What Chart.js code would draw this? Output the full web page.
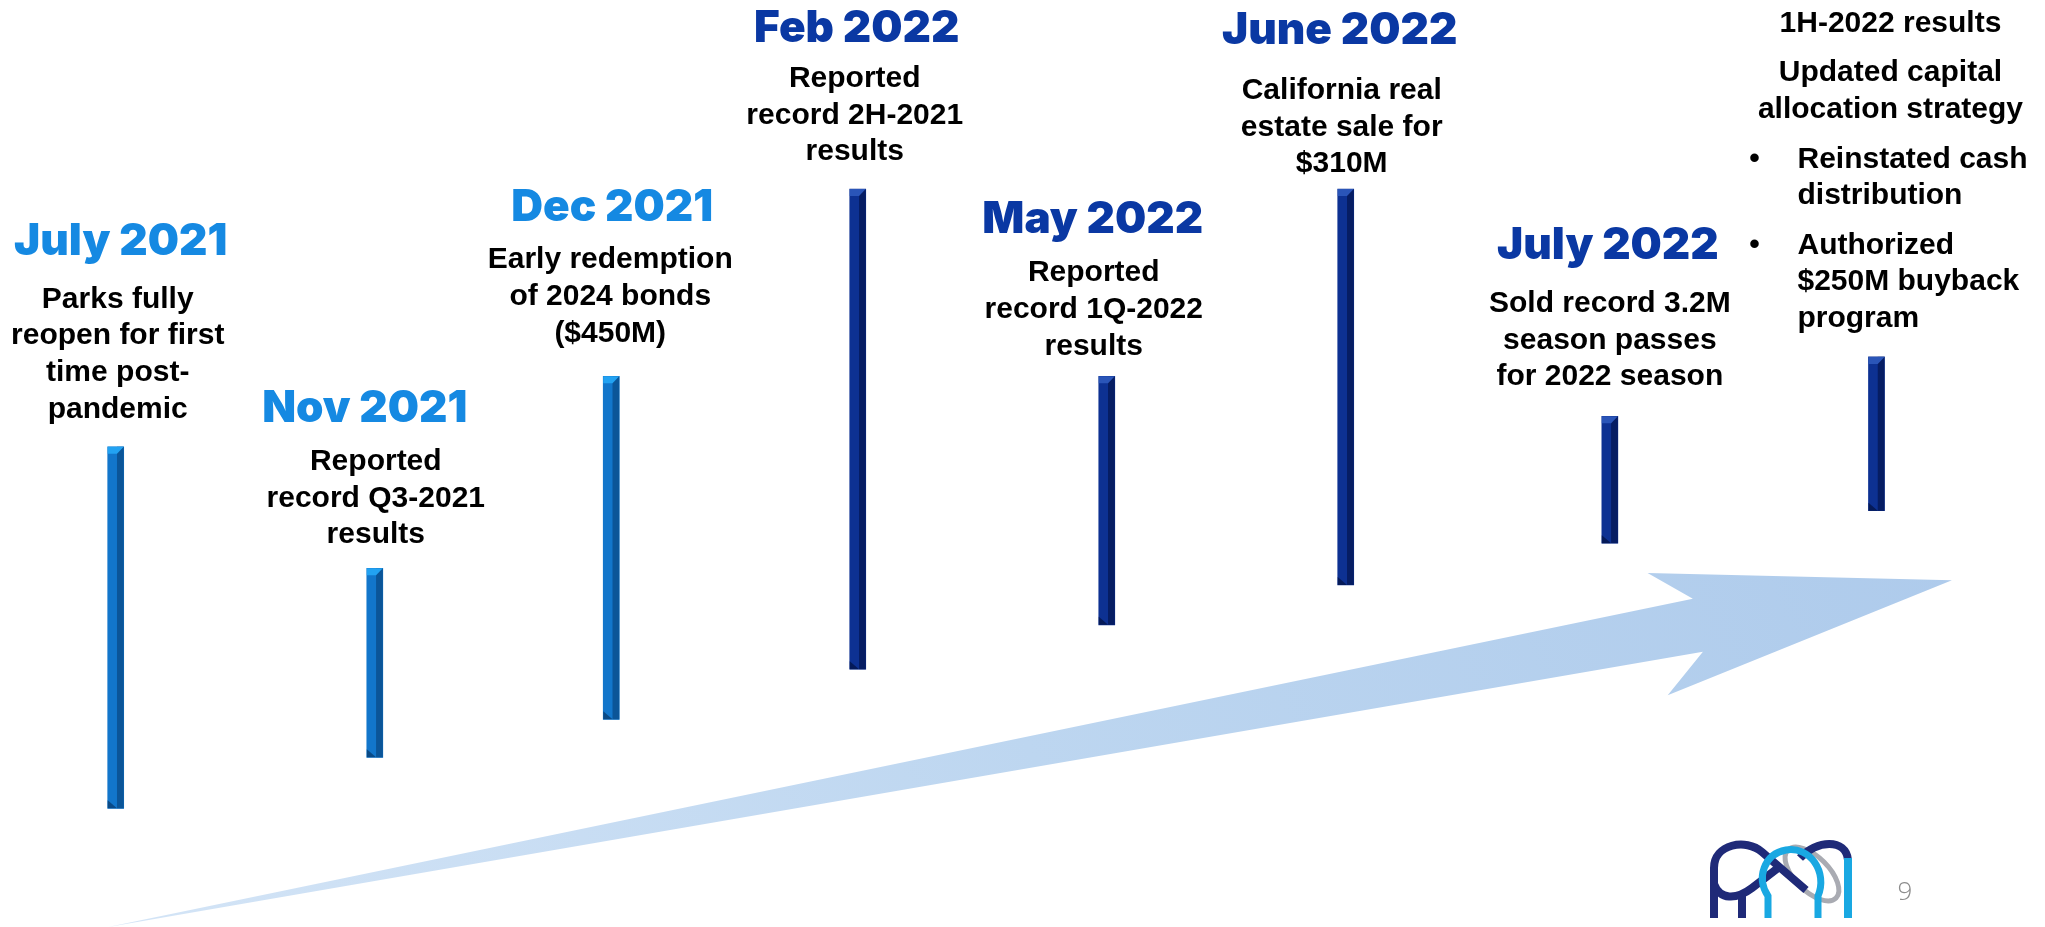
<!DOCTYPE html>
<html>
<head>
<meta charset="utf-8">
<script src="https://cdn.jsdelivr.net/npm/chart.js@4.4.0/dist/chart.umd.min.js"></script>
<style>
    html, body { margin: 0; padding: 0; background: #fff; }
    #wrap { width: 2045px; height: 927px; }
</style>
</head>
<body>
<div id="wrap"><canvas id="timelineChart" width="2045" height="927"></canvas></div>
<script>
// Données de la frise
const eventTitles = ['July 2021', 'Nov 2021', 'Dec 2021', 'Feb 2022', 'May 2022', 'June 2022', 'July 2022', ''];
const eventSlots = [0, 1.03, 1.97, 2.95, 3.94, 4.89, 5.94, 7];
const barBottoms = [12.8, 18.3, 22.4, 27.8, 32.6, 36.9, 41.4, 44.9];
const barTops = [51.8, 38.7, 59.4, 79.6, 59.4, 79.6, 55.1, 61.5];
const eventTexts = [
    [['Parks fully', 'reopen for first', 'time post-', 'pandemic']],
    [['Reported', 'record Q3-2021', 'results']],
    [['Early redemption', 'of 2024 bonds', '($450M)']],
    [['Reported', 'record 2H-2021', 'results']],
    [['Reported', 'record 1Q-2022', 'results']],
    [['California real', 'estate sale for', '$310M']],
    [['Sold record 3.2M', 'season passes', 'for 2022 season']],
    [['1H-2022 results'], ['Updated capital', 'allocation strategy'], ['Reinstated cash', 'distribution'], ['Authorized', '$250M buyback', 'program']]
];
const bulletParagraphs = [[], [], [], [], [], [], [], [2, 3]];

// Flèche de tendance (position sur la frise, % de hauteur)
const arrowX = [-0.03, 6.27, 6.09, 7.30, 6.17, 6.31, -0.03];
const arrowY = [0, 35.4, 38.2, 37.4, 25.0, 29.7, 0];

// Mise en page des libellés (px par rapport au haut de la barre)
const labelLayout = [
    {descOffset: 139, titleGap: 53, titleDx: 5, descDx: 2},
    {descOffset: 98, titleGap: 48, titleDx: -10, descDx: 1},
    {descOffset: 108, titleGap: 47, titleDx: 1, descDx: -1},
    {descOffset: 102, titleGap: 45, titleDx: -1, descDx: -3},
    {descOffset: 95, titleGap: 48, titleDx: -14, descDx: -13},
    {descOffset: 90, titleGap: 55, titleDx: -6, descDx: -4},
    {descOffset: 104, titleGap: 53, titleDx: -2, descDx: 0},
    {descOffset: 325, titleGap: 0, titleDx: 0, descDx: 14, bulletDx: -79, bulletMarkDx: -122}
];

const lightBar = {face: '#1276cb', shade: '#0b5598', cap: '#22a2f2', foot: '#0a4a86'};
const navyBar = {face: '#0d3192', shade: '#061d63', cap: '#2a55b8', foot: '#051a58'};
const LIGHT_TITLE = '#1589e2';
const DARK_TITLE = '#0a38a3';

const barPoints = eventSlots.map((x, i) => ({x: x, y: [barBottoms[i], barTops[i]]}));
const arrowPoints = arrowX.map((x, i) => ({x: x, y: arrowY[i]}));

// Ombrage biseauté des barres
const barBevel = {
    id: 'barBevel',
    afterDatasetDraw(chart, args) {
        if (args.index !== 1) return;
        const ctx = chart.ctx;
        args.meta.data.forEach((bar, i) => {
            const pal = i < 3 ? lightBar : navyBar;
            const left = bar.x - bar.width / 2;
            const right = bar.x + bar.width / 2;
            const top = Math.min(bar.y, bar.base);
            const bottom = Math.max(bar.y, bar.base);
            const split = left + bar.width * 0.58;
            ctx.save();
            ctx.fillStyle = pal.shade;
            ctx.fillRect(split, top, right - split, bottom - top);
            ctx.fillStyle = pal.cap;
            ctx.beginPath();
            ctx.moveTo(left, top);
            ctx.lineTo(right, top);
            ctx.lineTo(split, top + 7);
            ctx.lineTo(left, top + 7);
            ctx.closePath();
            ctx.fill();
            ctx.fillStyle = pal.foot;
            ctx.beginPath();
            ctx.moveTo(left, bottom - 8);
            ctx.lineTo(split, bottom);
            ctx.lineTo(left, bottom);
            ctx.closePath();
            ctx.fill();
            ctx.restore();
        });
    }
};

// Titres et descriptions
const timelineLabels = {
    id: 'timelineLabels',
    afterDatasetsDraw(chart) {
        const ctx = chart.ctx;
        const meta = chart.getDatasetMeta(1);
        const lineHeight = 36.6;
        const paraGap = 13;
        ctx.save();
        ctx.textBaseline = 'alphabetic';
        meta.data.forEach((bar, i) => {
            const lay = labelLayout[i];
            const top = Math.min(bar.y, bar.base);
            const first = top - lay.descOffset;
            if (eventTitles[i]) {
                ctx.font = '900 44px Inter, Roboto, "DejaVu Sans", sans-serif';
                ctx.fillStyle = i < 3 ? LIGHT_TITLE : DARK_TITLE;
                ctx.textAlign = 'center';
                ctx.fillText(eventTitles[i], bar.x + lay.titleDx, first - lay.titleGap);
            }
            ctx.font = 'bold 30px "Liberation Sans", Arial, sans-serif';
            ctx.fillStyle = '#000';
            let y = first;
            eventTexts[i].forEach((lines, p) => {
                if (p > 0) y += paraGap;
                const bullet = bulletParagraphs[i].includes(p);
                lines.forEach((line, k) => {
                    if (bullet) {
                        ctx.textAlign = 'left';
                        ctx.fillText(line, bar.x + lay.bulletDx, y);
                        if (k === 0) {
                            ctx.textAlign = 'center';
                            ctx.fillText('\u2022', bar.x + lay.bulletMarkDx, y);
                        }
                    } else {
                        ctx.textAlign = 'center';
                        ctx.fillText(line, bar.x + lay.descDx, y);
                    }
                    y += lineHeight;
                });
            });
        });
        ctx.restore();
    }
};

// Logo et numéro de page
const footerLogo = {
    id: 'footerLogo',
    afterDraw(chart) {
        const ctx = chart.ctx;
        const ox = chart.width - 339;
        const oy = chart.height - 89;
        ctx.save();
        ctx.translate(ox, oy);
        ctx.lineCap = 'butt';
        // anneau gris
        ctx.strokeStyle = '#a9abb2';
        ctx.lineWidth = 5;
        ctx.beginPath();
        ctx.ellipse(106, 36, 34, 17, Math.PI / 4, 0, Math.PI * 2);
        ctx.stroke();
        // boucle bleu marine gauche
        ctx.strokeStyle = '#1f2a78';
        ctx.lineWidth = 8;
        ctx.beginPath();
        ctx.moveTo(8, 80);
        ctx.lineTo(8, 30);
        ctx.bezierCurveTo(8, 6, 40, 0, 56, 14);
        ctx.lineTo(100, 52);
        ctx.stroke();
        ctx.beginPath();
        ctx.moveTo(8, 46);
        ctx.bezierCurveTo(14, 62, 30, 62, 46, 50);
        ctx.lineTo(72, 30);
        ctx.stroke();
        ctx.beginPath();
        ctx.moveTo(36, 58);
        ctx.lineTo(36, 80);
        ctx.stroke();
        // arc bleu marine droit
        ctx.beginPath();
        ctx.moveTo(94, 20);
        ctx.bezierCurveTo(110, 2, 140, 0, 142, 22);
        ctx.stroke();
        // boucle cyan
        ctx.strokeStyle = '#19a8e2';
        ctx.lineWidth = 7;
        ctx.beginPath();
        ctx.moveTo(62, 80);
        ctx.lineTo(62, 58);
        ctx.bezierCurveTo(50, 40, 58, 16, 80, 12);
        ctx.bezierCurveTo(104, 8, 122, 34, 112, 58);
        ctx.lineTo(112, 80);
        ctx.stroke();
        ctx.lineWidth = 8;
        ctx.beginPath();
        ctx.moveTo(142, 20);
        ctx.lineTo(142, 80);
        ctx.stroke();
        ctx.restore();

        ctx.save();
        ctx.font = '300 26px "Open Sans", Lato, sans-serif';
        ctx.fillStyle = '#8c8c8c';
        ctx.textAlign = 'center';
        ctx.textBaseline = 'alphabetic';
        ctx.fillText('9', chart.width - 140, chart.height - 27);
        ctx.restore();
    }
};

new Chart(document.getElementById('timelineChart'), {
    type: 'bar',
    data: {
        datasets: [
            {
                type: 'line',
                label: 'Trend',
                data: arrowPoints,
                order: 2,
                fill: 'shape',
                backgroundColor: (c) => {
                    const {ctx, chartArea} = c.chart;
                    if (!chartArea) return '#b3cfee';
                    const g = ctx.createLinearGradient(chartArea.left, chartArea.bottom, chartArea.right, chartArea.top);
                    g.addColorStop(0, '#d6e6f7');
                    g.addColorStop(0.45, '#bdd6f0');
                    g.addColorStop(1, '#a9c7ea');
                    return g;
                },
                borderColor: 'rgba(0,0,0,0)',
                borderWidth: 0,
                pointRadius: 0,
                tension: 0,
                clip: false
            },
            {
                type: 'bar',
                label: 'Events',
                data: barPoints,
                order: 1,
                backgroundColor: eventSlots.map((s, i) => i < 3 ? lightBar.face : navyBar.face),
                borderWidth: 0,
                borderSkipped: false,
                barThickness: 16
            }
        ]
    },
    options: {
        responsive: false,
        animation: false,
        events: [],
        layout: { padding: 0 },
        plugins: {
            legend: { display: false },
            tooltip: { enabled: false }
        },
        scales: {
            x: { type: 'linear', min: -0.46, max: 7.67, offset: false, display: false },
            y: { min: 0, max: 100, display: false }
        }
    },
    plugins: [barBevel, timelineLabels, footerLogo]
});
</script>
</body>
</html>
